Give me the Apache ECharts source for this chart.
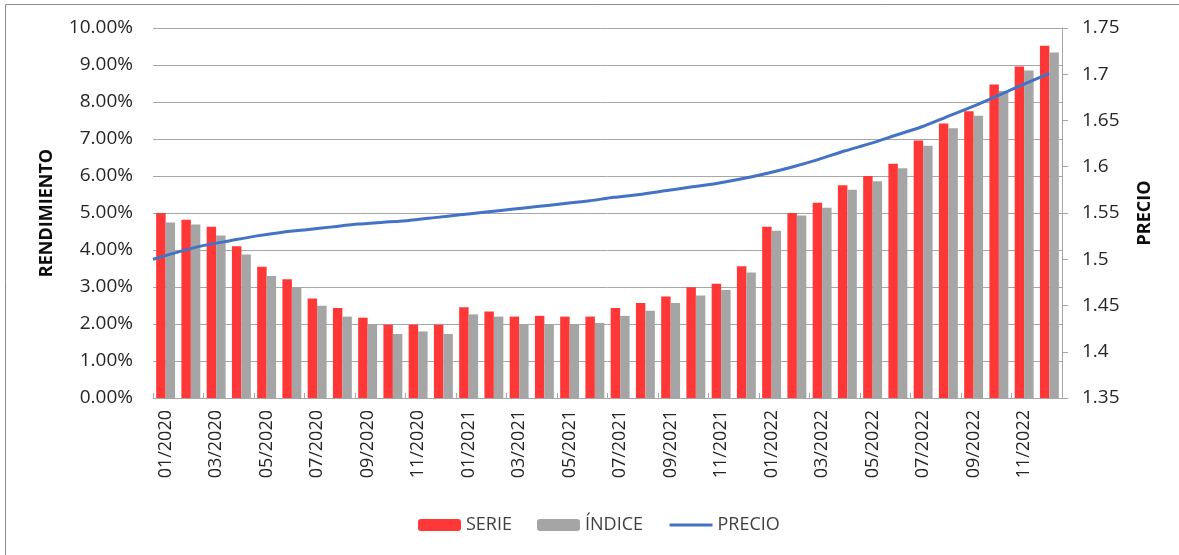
<!DOCTYPE html>
<html>
<head>
<meta charset="utf-8">
<script src="https://cdn.jsdelivr.net/npm/echarts@6/dist/echarts.min.js"></script>
<style>
  html, body { margin: 0; padding: 0; background: #fff; }
  #main { width: 1179px; height: 555px; }
</style>
</head>
<body>
<div id="main"></div>
<script>
var meses = [
  '01/2020','02/2020','03/2020','04/2020','05/2020','06/2020','07/2020','08/2020','09/2020','10/2020','11/2020','12/2020',
  '01/2021','02/2021','03/2021','04/2021','05/2021','06/2021','07/2021','08/2021','09/2021','10/2021','11/2021','12/2021',
  '01/2022','02/2022','03/2022','04/2022','05/2022','06/2022','07/2022','08/2022','09/2022','10/2022','11/2022','12/2022'
];

// rendimiento en %
var serie = [
  5.00, 4.82, 4.63, 4.10, 3.55, 3.21, 2.69, 2.43, 2.17, 1.98, 1.98, 1.98,
  2.45, 2.34, 2.20, 2.22, 2.20, 2.20, 2.43, 2.57, 2.74, 2.99, 3.09, 3.56,
  4.63, 5.00, 5.28, 5.75, 6.00, 6.33, 6.96, 7.42, 7.75, 8.47, 8.96, 9.52
];
var indice = [
  4.74, 4.69, 4.39, 3.88, 3.30, 3.00, 2.49, 2.20, 1.99, 1.73, 1.80, 1.73,
  2.26, 2.20, 1.99, 1.99, 1.99, 2.03, 2.22, 2.36, 2.57, 2.77, 2.92, 3.39,
  4.52, 4.93, 5.14, 5.63, 5.86, 6.21, 6.82, 7.29, 7.63, 8.30, 8.85, 9.34
];
var precio = [
  1.500, 1.508, 1.515, 1.520, 1.525, 1.529, 1.532, 1.535, 1.538, 1.540, 1.542, 1.545,
  1.548, 1.551, 1.554, 1.557, 1.560, 1.563, 1.567, 1.570, 1.574, 1.578, 1.582, 1.587,
  1.593, 1.600, 1.608, 1.617, 1.625, 1.634, 1.643, 1.654, 1.665, 1.677, 1.689, 1.701
];

var fuente = '"Open Sans", "Liberation Sans", sans-serif';
var gris = '#404040';

var myChart = echarts.init(document.getElementById('main'));

myChart.setOption({
  animation: false,
  textStyle: { fontFamily: fuente },
  graphic: [{
    type: 'rect',
    shape: { x: 5.5, y: 4.5, width: 1200, height: 600 },
    style: { fill: 'none', stroke: '#8c8c8c', lineWidth: 1 },
    silent: true
  }],
  legend: {
    left: 413,
    top: 511,
    itemWidth: 43,
    itemHeight: 12,
    itemGap: 25,
    textStyle: { fontSize: 18, color: gris, fontFamily: fuente },
    data: ['SERIE', 'ÍNDICE', { name: 'PRECIO', itemStyle: { opacity: 0 }, lineStyle: { width: 3 } }]
  },
  grid: { left: 153, right: 117, top: 28, bottom: 157 },
  xAxis: [{
    type: 'category',
    data: meses,
    axisLine: { lineStyle: { color: '#a6a6a6', width: 1 } },
    axisTick: { show: true, interval: 1, inside: true, length: 5, lineStyle: { color: '#a6a6a6' } },
    axisLabel: { interval: 1, rotate: 90, fontSize: 18, color: '#262626', margin: 12, fontFamily: fuente }
  }, {
    type: 'value',
    min: 0,
    max: 35.5,
    show: false
  }],
  yAxis: [{
    type: 'value',
    min: 0,
    max: 10,
    interval: 1,
    name: 'RENDIMIENTO',
    nameLocation: 'middle',
    nameRotate: 90,
    nameGap: 97,
    nameTextStyle: { fontSize: 18, fontWeight: 'bold', color: '#0d0d0d', fontFamily: fuente },
    axisLine: { show: false },
    axisTick: { show: false },
    axisLabel: {
      fontSize: 19, color: '#262626', margin: 20, fontFamily: fuente,
      formatter: function (v) { return v.toFixed(2) + '%'; }
    },
    splitLine: { lineStyle: { color: '#a6a6a6', width: 1 } }
  }, {
    type: 'value',
    min: 1.35,
    max: 1.75,
    interval: 0.05,
    name: 'PRECIO',
    nameLocation: 'middle',
    nameRotate: 90,
    nameGap: 74,
    nameTextStyle: { fontSize: 18, fontWeight: 'bold', color: '#0d0d0d', fontFamily: fuente },
    axisLine: { show: true, lineStyle: { color: '#a6a6a6' } },
    axisTick: { show: true, length: 6, lineStyle: { color: '#a6a6a6' } },
    axisLabel: {
      fontSize: 19, color: '#262626', margin: 20, fontFamily: fuente,
      formatter: function (v) { return String(Math.round(v * 100) / 100); }
    },
    splitLine: { show: false }
  }],
  series: [{
    name: 'SERIE',
    type: 'bar',
    data: serie,
    barGap: '0%',
    barCategoryGap: '25%',
    itemStyle: { color: '#ff3737' }
  }, {
    name: 'ÍNDICE',
    type: 'bar',
    data: indice,
    itemStyle: { color: '#a5a5a5' }
  }, {
    name: 'PRECIO',
    type: 'line',
    xAxisIndex: 1,
    yAxisIndex: 1,
    data: precio.map(function (v, i) { return [i, v]; }),
    symbol: 'none',
    smooth: 0.2,
    lineStyle: { color: '#4472c4', width: 3 },
    itemStyle: { color: '#4472c4' }
  }]
});
</script>
</body>
</html>
